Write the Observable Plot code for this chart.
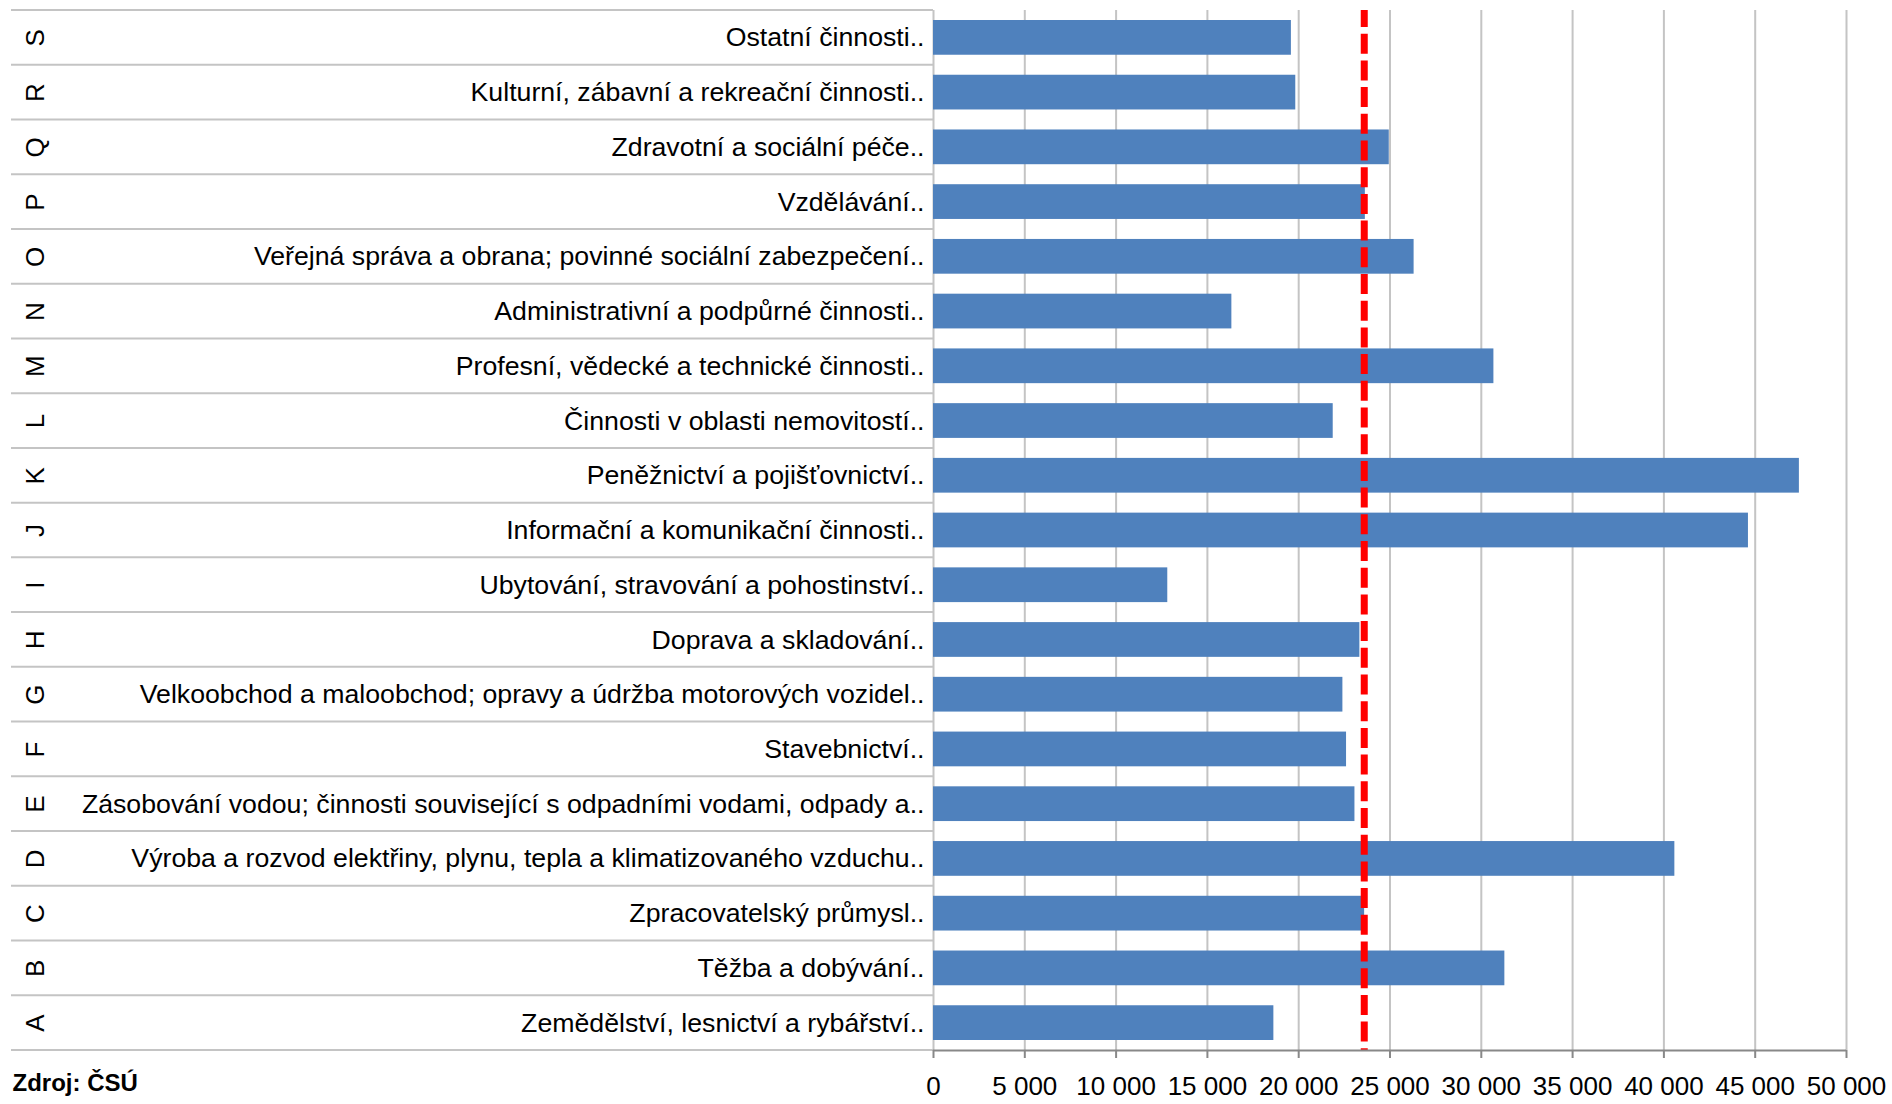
<!DOCTYPE html>
<html>
<head>
<meta charset="utf-8">
<script src="https://cdn.jsdelivr.net/npm/d3@7"></script>
<script src="https://cdn.jsdelivr.net/npm/@observablehq/plot@0.6"></script>
<style>
  html, body { margin: 0; padding: 0; background: #fff; }
  #chart svg { display: block; }
</style>
</head>
<body>
<div id="chart"></div>
<script>
// ---- data ----
const codes = ["A","B","C","D","E","F","G","H","I","J","K","L","M","N","O","P","Q","R","S"];
const names = [
  "Zemědělství, lesnictví a rybářství..",
  "Těžba a dobývání..",
  "Zpracovatelský průmysl..",
  "Výroba a rozvod elektřiny, plynu, tepla a klimatizovaného vzduchu..",
  "Zásobování vodou; činnosti související s odpadními vodami, odpady a..",
  "Stavebnictví..",
  "Velkoobchod a maloobchod; opravy a údržba motorových vozidel..",
  "Doprava a skladování..",
  "Ubytování, stravování a pohostinství..",
  "Informační a komunikační činnosti..",
  "Peněžnictví a pojišťovnictví..",
  "Činnosti v oblasti nemovitostí..",
  "Profesní, vědecké a technické činnosti..",
  "Administrativní a podpůrné činnosti..",
  "Veřejná správa a obrana; povinné sociální zabezpečení..",
  "Vzdělávání..",
  "Zdravotní a sociální péče..",
  "Kulturní, zábavní a rekreační činnosti..",
  "Ostatní činnosti.."
];
const values = [18640, 31290, 23610, 40600, 23080, 22620, 22420, 23350, 12830, 44630, 47420, 21890, 30690, 16340, 26320, 23650, 24960, 19840, 19600];
const average = [23590];
const xTicks = [0, 5000, 10000, 15000, 20000, 25000, 30000, 35000, 40000, 45000, 50000];
const source = ["Zdroj: ČSÚ"];

const rows = codes.map((c, i) => ({code: c, name: names[i], value: values[i]}));

// ---- layout ----
const W = 1892, H = 1104;
const mT = 10, mB = 54, mL = 933, mR = 46;
const labelAreaLeft = 11;
const bw = (H - mT - mB) / codes.length;
const fmt = d => d3.format(",")(d).replace(/,/g, " ");
const sepColor = "#c4c4c4";

// Row separators of the label area, positioned with the plot's own y band scale
function separators(index, scales) {
  const y = scales.y;
  const g = d3.create("svg:g").attr("stroke", sepColor).attr("stroke-width", 2);
  const bounds = codes.map(c => y(c)).concat([y("A") + y.bandwidth()]);
  for (const yy of bounds) {
    g.append("line")
      .attr("x1", labelAreaLeft).attr("x2", scales.x(0))
      .attr("y1", yy).attr("y2", yy);
  }
  return g.node();
}

const chart = Plot.plot({
  width: W,
  height: H,
  marginTop: mT,
  marginBottom: mB,
  marginLeft: mL,
  marginRight: mR,
  style: {fontFamily: "'Liberation Sans', Arial, sans-serif", background: "#fff", color: "#000"},
  x: {domain: [0, 50000]},
  y: {domain: codes.slice().reverse(), padding: 0, round: false, axis: null},
  marks: [
    // gridlines
    Plot.ruleX(xTicks.slice(1), {stroke: sepColor, strokeWidth: 2}),
    Plot.ruleX([0], {stroke: sepColor, strokeWidth: 2}),
    // row separators in the label area
    separators,
    // bars
    Plot.barX(rows, {y: "code", x: "value", fill: "#4F81BD", insetTop: 10, insetBottom: 10}),
    // average line
    Plot.ruleX(average, {stroke: "#FF0000", strokeWidth: 7, strokeDasharray: "20,6.7", strokeDashoffset: 3}),
    // baseline
    Plot.ruleY(["A"], {y: d => d, dy: bw / 2, stroke: "#888888", strokeWidth: 2}),
    // category labels
    Plot.text(rows, {y: "code", frameAnchor: "left", text: "name", textAnchor: "end", dx: -9, fontSize: 26.7, fill: "#000"}),
    // letters
    Plot.text(rows, {y: "code", text: "code", frameAnchor: "left", dx: -(mL - 35), rotate: -90, textAnchor: "middle", lineAnchor: "middle", fontSize: 26, fill: "#000"}),
    // x axis
    Plot.axisX(xTicks, {anchor: "bottom", tickSize: 8, tickPadding: 18, tickFormat: fmt, fontSize: 26, stroke: "#888888", strokeWidth: 2, fill: "#000", label: null}),
    // source
    Plot.text(source, {frameAnchor: "bottom-left", dx: -(mL - 12), dy: 40, lineAnchor: "bottom", textAnchor: "start", fontSize: 24, fontWeight: "bold", fill: "#000"})
  ]
});
document.getElementById("chart").appendChild(chart);
</script>
</body>
</html>
